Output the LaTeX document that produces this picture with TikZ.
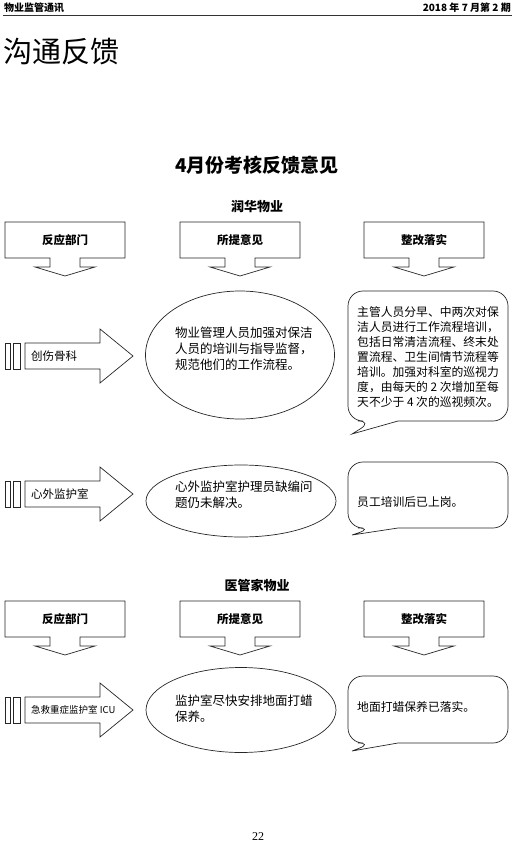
\documentclass[tikz,border=0pt]{standalone}
\usepackage{fontspec}
\setmainfont{Liberation Serif}
\newfontfamily\cjk{Noto Sans CJK SC}
\usetikzlibrary{positioning,shapes.geometric,calc}

\begin{document}
\begin{tikzpicture}[
  x=1pt, y=-1pt,
  outl/.style={draw=black!85, line width=0.7pt},
  head/.style={minimum width=120pt, minimum height=36pt, inner sep=0pt, outer sep=0pt,
    font=\cjk\bfseries\fontsize{11.5}{14}\selectfont},
  oval/.style={outl, ellipse, inner sep=0pt},
  body/.style={anchor=west, align=left, inner sep=0pt, font=\cjk\fontsize{12.5}{16}\selectfont},
  reply/.style={anchor=west, align=left, inner sep=0pt, font=\cjk\fontsize{11.8}{15}\selectfont},
  dept/.style={anchor=west, inner sep=0pt, font=\cjk\fontsize{11.5}{14}\selectfont}
]
\useasboundingbox (0,0) rectangle (525,848);

% page header
\node[anchor=west, inner sep=0pt, font=\cjk\bfseries\fontsize{10}{12}\selectfont] (mag) at (4,8) {物业监管通讯};
\node[anchor=east, inner sep=0pt, font=\cjk\bfseries\fontsize{10}{12}\selectfont] (issue) at (511,8) {2018 年 7 月第 2 期};
\draw[line width=1.1pt, black!80] (3,15.5) -- (512,15.5);
\node[anchor=west, inner sep=0pt, font=\cjk\fontsize{29}{32}\selectfont] (title) at (3,52) {沟通反馈};
\node[inner sep=0pt, font=\cjk\bfseries\fontsize{19}{22}\selectfont] (sub) at (257,165) {4月份考核反馈意见};
\node[inner sep=0pt, font=\cjk\bfseries\fontsize{13}{15}\selectfont] (runhua) at (257,207) {润华物业};
\node[inner sep=0pt, font=\cjk\bfseries\fontsize{13}{15}\selectfont] (yiguanjia) at (257,585) {医管家物业};

% column heads with down arrows
\foreach \nm/\cx/\yt/\txt in {hA/65/222/反应部门, hB/240/222/所提意见, hC/424/222/整改落实,
                              hD/65/601/反应部门, hE/240/601/所提意见, hF/424/601/整改落实}{
  \node[head] (\nm) at (\cx,\yt+18) {\txt};
  \draw[outl] (\nm.north west) -- (\nm.north east) -- (\nm.south east) -- ++(-45,0) -- ++(0,9)
    -- ++(15,0) -- ++(-30,9) -- ++(-30,-9) -- ++(15,0) -- ++(0,-9) -- (\nm.south west) -- cycle;
}

% department arrows
\foreach \yc in {356, 494, 710}{
  \draw[outl] (5,\yc-13) rectangle (10,\yc+13);
  \draw[outl] (13,\yc-13) rectangle (20,\yc+13);
  \draw[outl] (25,\yc-13) -- (100,\yc-13) -- (100,\yc-27) -- (133,\yc) -- (100,\yc+27) -- (100,\yc+13) -- (25,\yc+13) -- cycle;
}
\node[dept] (dA) at (31,356) {创伤骨科};
\node[dept] (dB) at (31,494) {心外监护室};
\node[dept, font=\cjk\fontsize{9.5}{12}\selectfont] (dC) at (31,710) {急救重症监护室 ICU};

% opinions
\node[oval, minimum width=189pt, minimum height=128pt] (eA) at (240,355) {};
\node[oval, minimum width=190pt, minimum height=72pt] (eB) at (241,501) {};
\node[oval, minimum width=190pt, minimum height=85pt] (eC) at (241,710) {};
\node[body] (oA) at (175,349) {物业管理人员加强对保洁\\人员的培训与指导监督，\\规范他们的工作流程。};
\node[body] (oB) at (175,495) {心外监护室护理员缺编问\\题仍未解决。};
\node[body] (oC) at (175,709) {监护室尽快安排地面打蜡\\保养。};

% rectification bubbles
\foreach \yt/\yb/\yp in {291/421/434, 462/528/535, 676/743/751}{
  \draw[outl] (398,\yb) [rounded corners=15pt] -- (508,\yb) -- (508,\yt) -- (348,\yt) -- (348,\yb)
    -- (373,\yb) [sharp corners] -- (352,\yp) -- (398,\yb);
}
\node[reply] (rA) at (357,357) {主管人员分早、中两次对保\\洁人员进行工作流程培训，\\包括日常清洁流程、终末处\\置流程、卫生间情节流程等\\培训。加强对科室的巡视力\\度，由每天的 2 次增加至每\\天不少于 4 次的巡视频次。};
\node[reply] (rB) at (357,502) {员工培训后已上岗。};
\node[reply] (rC) at (357,707) {地面打蜡保养已落实。};

% page number
\node[inner sep=0pt, font=\fontsize{12}{14}\selectfont] (pg) at (258,837) {22};
\end{tikzpicture}
\end{document}
